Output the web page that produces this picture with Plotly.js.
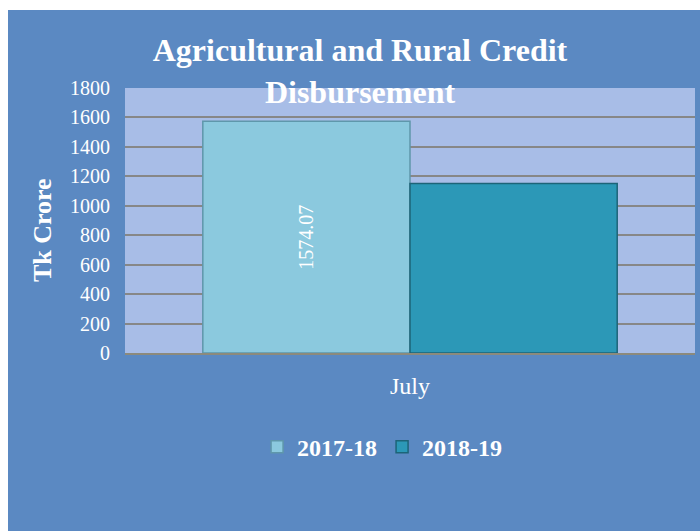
<!DOCTYPE html>
<html>
<head>
<meta charset="utf-8">
<script src="https://cdn.plot.ly/plotly-3.0.1.min.js"></script>
<style>
  html, body { margin: 0; padding: 0; background: #ffffff; width: 700px; height: 531px; overflow: hidden; }
  #chart { position: absolute; left: 8px; top: 10px; width: 692px; height: 521px; }
</style>
</head>
<body>
<div id="chart"></div>
<script>
var categories = ['July'];
var seriesNames = ['2017-18', '2018-19'];
var values2017 = [1574.07];
var values2018 = [1152];
var labels2017 = ['1574.07'];
var yTicks = [0, 200, 400, 600, 800, 1000, 1200, 1400, 1600, 1800];

var FONT = 'Liberation Serif, Times New Roman, serif';

var traces = [
  {
    type: 'bar',
    name: seriesNames[0],
    x: categories,
    y: values2017,
    text: labels2017,
    textposition: 'inside',
    insidetextanchor: 'middle',
    textangle: -90,
    textfont: { family: FONT, size: 20, color: '#ffffff' },
    insidetextfont: { family: FONT, size: 20, color: '#ffffff' },
    constraintext: 'none',
    marker: { color: '#8bc9de', line: { color: '#5f97ab', width: 1.5 } },
    hoverinfo: 'none'
  },
  {
    type: 'bar',
    name: seriesNames[1],
    x: categories,
    y: values2018,
    marker: { color: '#2c98b7', line: { color: '#1d6478', width: 1.5 } },
    hoverinfo: 'none'
  }
];

var layout = {
  width: 692,
  height: 521,
  font: { family: FONT, color: '#ffffff' },
  paper_bgcolor: '#5b89c2',
  plot_bgcolor: '#a8bde7',
  margin: { l: 117, r: 5, t: 78, b: 178 },
  barmode: 'group',
  bargap: 0.273,
  bargroupgap: 0,
  showlegend: true,
  title: {
    text: '<b>Agricultural and Rural Credit<br>Disbursement</b>',
    font: { family: FONT, size: 32, color: '#ffffff' },
    x: 0.5087,
    xanchor: 'center',
    xref: 'container',
    yref: 'container',
    y: 0.902,
    yanchor: 'top'
  },
  xaxis: {
    type: 'category',
    tickfont: { family: FONT, size: 24, color: '#ffffff' },
    ticks: '',
    ticklabelstandoff: 10,
    showgrid: false,
    showline: true,
    linecolor: '#8c8a7c',
    linewidth: 2,
    zeroline: false
  },
  yaxis: {
    range: [0, 1800],
    tickvals: yTicks,
    tickfont: { family: FONT, size: 20, color: '#ffffff' },
    ticks: '',
    ticklabelstandoff: 14,
    showgrid: true,
    gridcolor: '#878787',
    gridwidth: 2,
    zeroline: false,
    showline: false,
    title: {
      text: '<b>Tk Crore&nbsp;&nbsp;&nbsp;</b>',
      font: { family: FONT, size: 26, color: '#ffffff' },
      standoff: 10
    }
  },
  legend: {
    orientation: 'h',
    x: 0.451,
    xanchor: 'center',
    y: -0.355,
    yanchor: 'middle',
    bgcolor: 'rgba(0,0,0,0)',
    font: { family: FONT, size: 24, color: '#ffffff', weight: 'bold' },
    itemwidth: 30
  }
};

Plotly.newPlot('chart', traces, layout, { displayModeBar: false, staticPlot: true });
</script>
</body>
</html>
